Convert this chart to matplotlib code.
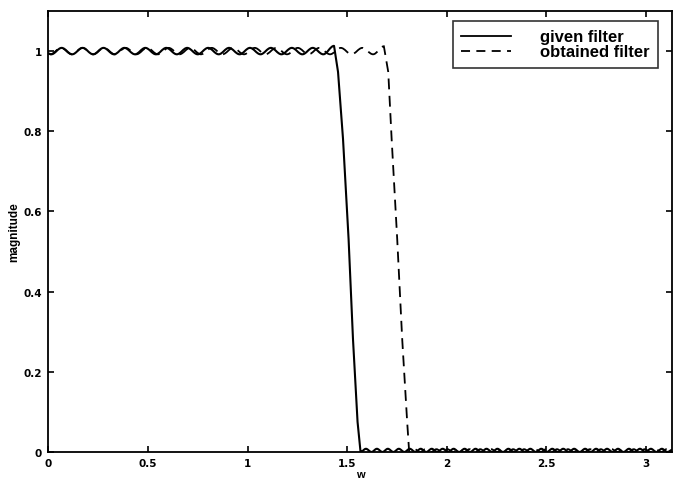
import numpy as np
import matplotlib
matplotlib.use("Agg")
import matplotlib.pyplot as plt
from matplotlib.path import Path
from matplotlib.patches import PathPatch
from matplotlib.lines import Line2D

# values: ripple extrema in the passband, the roll-off,
# and the arch tops / zeros in the stopband
given_x = [0.000, 0.015, 0.067, 0.120, 0.172, 0.225, 0.277, 0.330, 0.382, 0.435,
           0.487, 0.540, 0.592, 0.645, 0.697, 0.750, 0.802, 0.855, 0.907, 0.960,
           1.012, 1.065, 1.117, 1.170, 1.222, 1.275, 1.327, 1.380, 1.434,
           1.454, 1.479, 1.507, 1.529, 1.552, 1.567,
           1.594, 1.622, 1.649, 1.677, 1.704, 1.732, 1.759, 1.787, 1.814, 1.842,
           1.869, 1.897, 1.924, 1.952, 1.979, 2.007, 2.034, 2.062, 2.089, 2.117,
           2.144, 2.172, 2.199, 2.227, 2.254, 2.282, 2.309, 2.337, 2.364, 2.392,
           2.419, 2.447, 2.474, 2.502, 2.529, 2.557, 2.584, 2.612, 2.639, 2.667,
           2.694, 2.722, 2.749, 2.777, 2.804, 2.832, 2.859, 2.887, 2.914, 2.942,
           2.969, 2.997, 3.024, 3.052, 3.079, 3.107, 3.130]
given_y = [0.994, 0.992, 1.008, 0.992, 1.008, 0.992, 1.008, 0.992, 1.008, 0.992,
           1.008, 0.992, 1.008, 0.992, 1.008, 0.992, 1.008, 0.992, 1.008, 0.992,
           1.008, 0.992, 1.008, 0.992, 1.008, 0.992, 1.008, 0.992, 1.013,
           0.948, 0.781, 0.531, 0.282, 0.075, 0.000,
           0.008, 0.000, 0.008, 0.000, 0.008, 0.000, 0.008, 0.000, 0.008, 0.000,
           0.008, 0.000, 0.008, 0.000, 0.008, 0.000, 0.008, 0.000, 0.008, 0.000,
           0.008, 0.000, 0.008, 0.000, 0.008, 0.000, 0.008, 0.000, 0.008, 0.000,
           0.008, 0.000, 0.008, 0.000, 0.008, 0.000, 0.008, 0.000, 0.008, 0.000,
           0.008, 0.000, 0.008, 0.000, 0.008, 0.000, 0.008, 0.000, 0.008, 0.000,
           0.008, 0.000, 0.008, 0.000, 0.008, 0.000, 0.005]

obtained_x = [0.000, 0.010, 0.064, 0.118, 0.172, 0.226, 0.280, 0.334, 0.388, 0.442,
              0.496, 0.550, 0.604, 0.658, 0.712, 0.766, 0.820, 0.874, 0.928, 0.982,
              1.036, 1.090, 1.144, 1.198, 1.252, 1.306, 1.360, 1.414, 1.468, 1.522,
              1.576, 1.630, 1.684,
              1.706, 1.723, 1.751, 1.776, 1.801, 1.811,
              1.838, 1.866, 1.893, 1.921, 1.948, 1.976, 2.003, 2.031, 2.058, 2.086,
              2.113, 2.141, 2.168, 2.196, 2.223, 2.251, 2.278, 2.306, 2.333, 2.361,
              2.388, 2.416, 2.443, 2.471, 2.498, 2.526, 2.553, 2.581, 2.608, 2.636,
              2.663, 2.691, 2.718, 2.746, 2.773, 2.801, 2.828, 2.856, 2.883, 2.911,
              2.938, 2.966, 2.993, 3.021, 3.048, 3.076, 3.103, 3.130]
obtained_y = [0.994, 0.992, 1.008, 0.992, 1.008, 0.992, 1.008, 0.992, 1.008, 0.992,
              1.008, 0.992, 1.008, 0.992, 1.008, 0.992, 1.008, 0.992, 1.008, 0.992,
              1.008, 0.992, 1.008, 0.992, 1.008, 0.992, 1.008, 0.992, 1.008, 0.992,
              1.008, 0.992, 1.012,
              0.948, 0.781, 0.531, 0.282, 0.075, 0.000,
              0.007, 0.000, 0.007, 0.000, 0.007, 0.000, 0.007, 0.000, 0.007, 0.000,
              0.007, 0.000, 0.007, 0.000, 0.007, 0.000, 0.007, 0.000, 0.007, 0.000,
              0.007, 0.000, 0.007, 0.000, 0.007, 0.000, 0.007, 0.000, 0.007, 0.000,
              0.007, 0.000, 0.007, 0.000, 0.007, 0.000, 0.007, 0.000, 0.007, 0.000,
              0.007, 0.000, 0.007, 0.000, 0.007, 0.000, 0.007, 0.000]

x_ticks = [0, 0.5, 1, 1.5, 2, 2.5, 3]
x_tick_labels = ["0", "0.5", "1", "1.5", "2", "2.5", "3"]
y_ticks = [0, 0.2, 0.4, 0.6, 0.8, 1]
y_tick_labels = ["0", "0.2", "0.4", "0.6", "0.8", "1"]


def ripple_path(xs, ys):
    # rounded segments between ripple extrema, straight ones in the roll-off
    verts = [(xs[0], ys[0])]
    codes = [Path.MOVETO]
    for i in range(1, len(xs)):
        x0, y0, x1, y1 = xs[i - 1], ys[i - 1], xs[i], ys[i]
        flat = (y0 > 0.98 and y1 > 0.98) or (y0 < 0.03 and y1 < 0.03)
        if flat:
            h = x1 - x0
            verts += [(x0 + 0.36 * h, y0), (x1 - 0.36 * h, y1), (x1, y1)]
            codes += [Path.CURVE4] * 3
        else:
            verts.append((x1, y1))
            codes.append(Path.LINETO)
    return Path(verts, codes)


plt.rcParams["font.family"] = "Liberation Sans"
plt.rcParams["font.weight"] = "bold"

fig = plt.figure(figsize=(6.73, 4.81), dpi=100)
ax = fig.add_axes([48.3 / 673, 1 - 453 / 481, (672 - 48.3) / 673, 441 / 481])

ax.add_patch(PathPatch(ripple_path(given_x, given_y), fill=False,
                       edgecolor="black", lw=1.5, capstyle="round",
                       joinstyle="round"))
ax.add_patch(PathPatch(ripple_path(obtained_x, obtained_y), fill=False,
                       edgecolor="black", lw=1.3, linestyle=(0, (6, 3.6))))

ax.set_xlim(0, 3.13)
ax.set_ylim(0, 1.1)
ax.set_xticks(x_ticks)
ax.set_xticklabels(x_tick_labels)
ax.set_yticks(y_ticks)
ax.set_yticklabels(y_tick_labels)
ax.tick_params(direction="in", top=True, right=True, length=4, width=1.2,
               labelsize=7.5, pad=4.5)
for lab in ax.get_xticklabels() + ax.get_yticklabels():
    lab.set_fontfamily("DejaVu Sans")
    lab.set_fontweight("bold")
for s in ax.spines.values():
    s.set_linewidth(1.3)

ax.set_ylabel("magnitude", fontsize=8.5, fontweight="bold", labelpad=2.5)
fig.text((48.3 + 672) / 2 / 673, 1 / 481, "w", fontsize=8, ha="center",
         va="bottom")

handles = [Line2D([], [], color="black", lw=1.3),
           Line2D([], [], color="black", lw=1.3, linestyle=(0, (5, 3.5)))]
leg = ax.legend(handles, ["given filter", "obtained filter"],
                loc="upper right", bbox_to_anchor=(658 / 673, 1 - 22 / 481),
                bbox_transform=fig.transFigure, borderaxespad=0,
                fontsize=12, frameon=True, fancybox=False,
                edgecolor="black", handlelength=3.0, handletextpad=1.75,
                labelspacing=0.0, borderpad=0.5)
leg.get_frame().set_linewidth(1.2)

fig.savefig("out.png", dpi=100)
